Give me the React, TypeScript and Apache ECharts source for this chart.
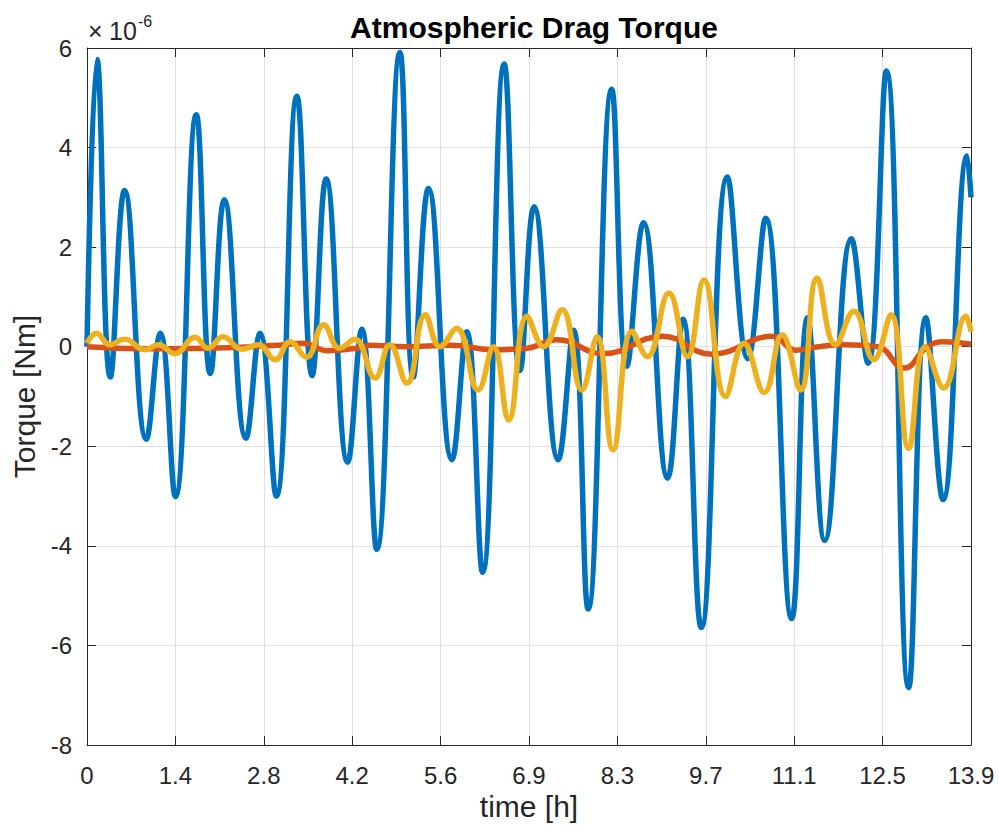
import React, { useEffect, useRef } from "react";
import * as echarts from "echarts";

// time [h] and torque [1e-6 Nm]
const blueTime = [0, 0.157, 0.367, 0.592, 0.933, 1.153, 1.389, 1.718, 1.939, 2.159, 2.5, 2.72, 2.976, 3.3, 3.54, 3.76, 4.1, 4.32, 4.556, 4.92, 5.13, 5.37, 5.74, 5.97, 6.22, 6.56, 6.81, 7.03, 7.41, 7.65, 7.88, 8.25, 8.49, 8.75, 9.13, 9.37, 9.66, 10.07, 10.39, 10.67, 11.08, 11.33, 11.6, 12.02, 12.28, 12.57, 12.92, 13.19, 13.46, 13.84, 13.9];
const blueTorque = [0, 5.77, -0.61, 3.14, -1.86, 0.27, -3.01, 4.66, -0.54, 2.95, -1.84, 0.27, -3.0, 5.03, -0.58, 3.37, -2.32, 0.35, -4.07, 5.91, -0.61, 3.18, -2.27, 0.3, -4.53, 5.68, -0.48, 2.81, -2.27, 0.33, -5.27, 5.17, -0.39, 2.49, -2.64, 0.55, -5.64, 3.41, -0.24, 2.58, -5.46, 0.58, -3.89, 2.17, -0.33, 5.54, -6.85, 0.58, -3.07, 3.83, 3.0];

const orangeTime = [0, 0.89, 2.2, 2.99, 3.4, 3.77, 4.3, 4.45, 5.0, 5.73, 6.39, 6.92, 7.39, 8.12, 9.05, 9.82, 10.78, 11.14, 11.5, 11.9, 12.43, 12.85, 13.2, 13.47, 13.9];
const orangeTorque = [0, -0.04, -0.02, 0.03, 0.07, -0.08, -0.02, 0.03, 0.0, 0.03, -0.06, -0.03, 0.14, -0.14, 0.21, -0.15, 0.21, -0.07, 0.0, 0.04, 0.0, -0.43, -0.02, 0.1, 0.05];

const yellowTime = [0, 0.15, 0.36, 0.59, 0.91, 1.12, 1.38, 1.7, 1.9, 2.14, 2.43, 2.69, 2.96, 3.19, 3.45, 3.72, 3.97, 4.21, 4.53, 4.76, 5.03, 5.32, 5.55, 5.81, 6.15, 6.39, 6.63, 6.92, 7.18, 7.47, 7.78, 8.02, 8.27, 8.57, 8.81, 9.15, 9.44, 9.7, 10.04, 10.33, 10.65, 10.93, 11.22, 11.48, 11.77, 12.06, 12.37, 12.64, 12.92, 13.18, 13.47, 13.82, 13.9];
const yellowTorque = [0.07, 0.27, 0.04, 0.15, -0.06, 0.04, -0.14, 0.19, -0.03, 0.2, -0.05, 0.04, -0.26, 0.1, -0.21, 0.44, -0.03, 0.15, -0.63, 0.04, -0.73, 0.64, 0.0, 0.37, -0.87, 0.0, -1.47, 0.61, 0.0, 0.74, -0.87, 0.2, -2.07, 0.31, -0.2, 1.08, -0.2, 1.34, -1.0, 0.07, -0.92, 0.24, -0.87, 1.38, 0.04, 0.71, -0.26, 0.64, -2.04, 0.0, -0.83, 0.61, 0.3];

const xTickLabels = ["0", "1.4", "2.8", "4.2", "5.6", "6.9", "8.3", "9.7", "11.1", "12.5", "13.9"];
const yTickLabels = ["-8", "-6", "-4", "-2", "0", "2", "4", "6"];

const X_MIN = 0;
const X_MAX = 13.9;
const X_INTERVAL = 1.39;
const Y_MIN = -8;
const Y_MAX = 6;
const Y_INTERVAL = 2;

const FONT = "'Liberation Sans', Arial, Helvetica, sans-serif";
const AXIS_COLOR = "#262626";
const GRID_COLOR = "#e0e0e0";
const LINE_WIDTH = 5.5;

const pairs = (t: number[], v: number[]) => t.map((x, i) => [x, v[i]]);

export default function App() {
  const ref = useRef<HTMLDivElement>(null);
  useEffect(() => {
    if (!ref.current) return;
    const chart = echarts.init(ref.current, undefined, { renderer: "svg" });
    const xLabel = (v: number) => xTickLabels[Math.round((v - X_MIN) / X_INTERVAL)] ?? "";
    const yLabel = (v: number) => yTickLabels[Math.round((v - Y_MIN) / Y_INTERVAL)] ?? "";
    const baseX = {
      type: "value" as const,
      min: X_MIN,
      max: X_MAX,
      interval: X_INTERVAL,
      axisLine: { show: true, onZero: false, lineStyle: { color: AXIS_COLOR, width: 1 } },
      axisTick: { show: true, inside: true, length: 9, lineStyle: { color: AXIS_COLOR } },
    };
    const baseY = {
      type: "value" as const,
      min: Y_MIN,
      max: Y_MAX,
      interval: Y_INTERVAL,
      axisLine: { show: true, onZero: false, lineStyle: { color: AXIS_COLOR, width: 1 } },
      axisTick: { show: true, inside: true, length: 9, lineStyle: { color: AXIS_COLOR } },
    };
    chart.setOption({
      animation: false,
      backgroundColor: "#ffffff",
      textStyle: { fontFamily: FONT },
      grid: { left: 87, right: 28, top: 48, bottom: 87, containLabel: false },
      title: {
        text: "Atmospheric Drag Torque",
        left: 529,
        top: 7,
        textAlign: "center",
        textStyle: { fontFamily: FONT, fontSize: 30, fontWeight: "bold", color: "#000000" },
      },
      xAxis: [
        {
          ...baseX,
          position: "bottom",
          name: "time [h]",
          nameLocation: "middle",
          nameGap: 44,
          nameTextStyle: { fontFamily: FONT, fontSize: 30, color: AXIS_COLOR },
          axisLabel: { formatter: xLabel, margin: 18, fontFamily: FONT, fontSize: 24, color: AXIS_COLOR },
          splitLine: { show: true, lineStyle: { color: GRID_COLOR, width: 1 } },
        },
        {
          ...baseX,
          position: "top",
          axisLabel: { show: false },
          splitLine: { show: false },
        },
      ],
      yAxis: [
        {
          ...baseY,
          position: "left",
          name: "Torque [Nm]",
          nameLocation: "middle",
          nameGap: 44,
          nameTextStyle: { fontFamily: FONT, fontSize: 30, color: AXIS_COLOR },
          axisLabel: { formatter: yLabel, margin: 15, fontFamily: FONT, fontSize: 24, color: AXIS_COLOR },
          splitLine: { show: true, lineStyle: { color: GRID_COLOR, width: 1 } },
        },
        {
          ...baseY,
          position: "right",
          axisLabel: { show: false },
          splitLine: { show: false },
        },
      ],
      graphic: [
        {
          type: "text",
          x: 88,
          y: 31,
          style: { text: "×", font: `25px ${FONT}`, fill: AXIS_COLOR, verticalAlign: "middle", align: "left" },
        },
        {
          type: "text",
          x: 109,
          y: 31,
          style: { text: "10", font: `25px ${FONT}`, fill: AXIS_COLOR, verticalAlign: "middle", align: "left" },
        },
        {
          type: "text",
          x: 138,
          y: 21,
          style: { text: "-6", font: `16px ${FONT}`, fill: AXIS_COLOR, verticalAlign: "middle", align: "left" },
        },
      ],
      series: [
        {
          type: "line",
          data: pairs(blueTime, blueTorque),
          showSymbol: false,
          smooth: 0.45,
          lineStyle: { color: "#0072BD", width: LINE_WIDTH },
          itemStyle: { color: "#0072BD" },
          z: 2,
        },
        {
          type: "line",
          data: pairs(orangeTime, orangeTorque),
          showSymbol: false,
          smooth: 0.45,
          lineStyle: { color: "#D95319", width: LINE_WIDTH },
          itemStyle: { color: "#D95319" },
          z: 3,
        },
        {
          type: "line",
          data: pairs(yellowTime, yellowTorque),
          showSymbol: false,
          smooth: 0.45,
          lineStyle: { color: "#EDB120", width: LINE_WIDTH },
          itemStyle: { color: "#EDB120" },
          z: 4,
        },
      ],
    });
    return () => chart.dispose();
  }, []);
  return (
    <div
      ref={ref}
      style={{ position: "absolute", left: 0, top: 0, width: 999, height: 832 }}
    />
  );
}
